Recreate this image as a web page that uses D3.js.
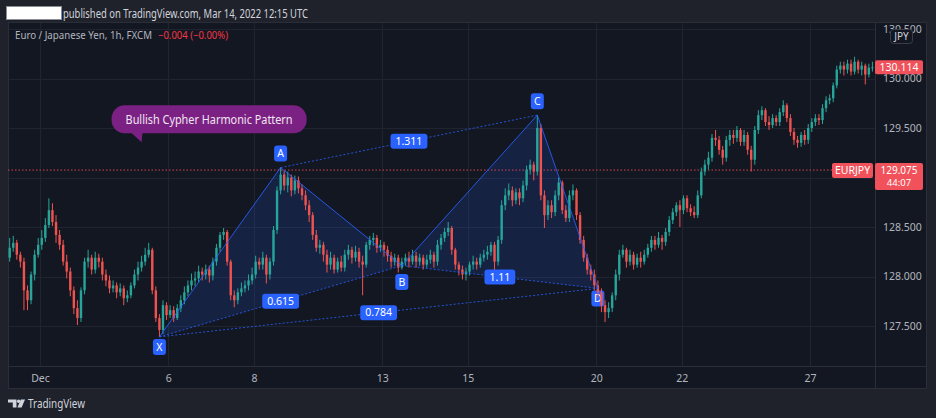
<!DOCTYPE html>
<html><head><meta charset="utf-8">
<script src="https://cdn.jsdelivr.net/npm/d3@7"></script>
<style>html,body{margin:0;padding:0;background:#1f222b;}svg{display:block;}</style>
</head><body><svg id="c" width="936" height="418"></svg>
<script>
// ---- DATA (EUR/JPY, 2-hour bars) ----
const firstOpen = 128.19;
const closes = [128.29,128.34,128.22,128.15,127.86,127.76,128.02,128.22,128.32,128.39,
128.52,128.67,128.55,128.42,128.32,128.15,128.05,127.86,127.68,127.58,
127.86,128.15,128.19,128.07,128.19,128.15,128.02,127.96,127.88,127.91,
127.84,127.88,127.78,127.81,127.91,128.02,128.09,128.15,128.22,128.27,
127.86,127.58,127.46,127.71,127.61,127.66,127.58,127.68,127.76,127.84,
127.91,127.96,127.98,128.05,128.02,128.07,128.01,128.15,128.29,128.42,
128.45,128.15,127.81,127.76,127.84,127.88,127.91,127.96,128.02,128.15,
128.12,128.19,128.02,128.15,128.47,128.87,129.03,128.92,129.00,128.87,
128.97,128.89,128.82,128.72,128.62,128.42,128.29,128.32,128.22,128.12,
128.19,128.07,128.15,128.09,128.22,128.27,128.19,128.25,128.15,128.12,
128.32,128.37,128.39,128.29,128.32,128.27,128.21,128.15,128.19,128.09,
128.15,128.19,128.15,128.21,128.15,128.19,128.12,128.17,128.22,128.15,
128.32,128.39,128.45,128.49,128.27,128.12,128.07,128.02,128.05,128.12,
128.15,128.12,128.19,128.22,128.25,128.32,128.15,128.37,128.72,128.82,
128.87,128.77,128.85,128.79,128.92,129.08,129.13,129.06,129.50,128.82,
128.62,128.72,128.65,128.82,128.95,128.67,128.59,128.82,128.87,128.62,
128.37,128.19,128.07,128.02,127.91,127.84,127.71,127.64,127.68,127.81,
128.02,128.22,128.27,128.15,128.22,128.12,128.19,128.15,128.22,128.29,
128.37,128.32,128.39,128.35,128.45,128.57,128.65,128.72,128.67,128.79,
128.69,128.65,128.62,128.82,129.06,129.13,129.20,129.40,129.38,129.28,
129.20,129.38,129.43,129.40,129.48,129.36,129.43,129.28,129.18,129.48,
129.63,129.68,129.56,129.53,129.60,129.56,129.66,129.73,129.60,129.46,
129.38,129.35,129.43,129.38,129.50,129.56,129.60,129.58,129.70,129.78,
129.80,129.93,130.09,130.13,130.09,130.15,130.07,130.17,130.09,130.13,
130.04,130.11,130.114];
const highs = [128.39,128.41,128.37,128.25,128.19,127.91,128.05,128.27,128.39,128.47,
128.59,128.79,128.74,128.62,128.47,128.37,128.22,128.09,127.90,127.76,
127.89,128.19,128.27,128.22,128.25,128.23,128.19,128.07,128.01,127.96,
127.94,127.93,127.91,127.86,127.94,128.07,128.15,128.21,128.29,128.34,
128.29,127.90,127.62,127.76,127.74,127.71,127.70,127.72,127.81,127.90,
127.96,128.03,128.05,128.11,128.09,128.12,128.11,128.19,128.33,128.45,
128.49,128.47,128.17,127.86,127.88,127.94,127.96,128.02,128.09,128.21,
128.19,128.25,128.22,128.19,128.51,128.91,129.10,129.07,129.06,129.03,
129.02,129.01,128.93,128.87,128.77,128.65,128.47,128.37,128.35,128.27,
128.25,128.22,128.19,128.21,128.27,128.32,128.30,128.31,128.29,128.21,
128.35,128.41,128.44,128.42,128.37,128.35,128.31,128.25,128.23,128.22,
128.19,128.23,128.25,128.27,128.25,128.23,128.22,128.22,128.27,128.25,
128.37,128.43,128.49,128.55,128.51,128.29,128.15,128.11,128.09,128.15,
128.21,128.19,128.23,128.27,128.31,128.35,128.35,128.41,128.77,128.89,
128.94,128.91,128.89,128.89,128.97,129.12,129.18,129.16,129.63,129.54,
128.87,128.77,128.77,128.87,129.00,128.97,128.72,128.87,128.93,128.89,
128.65,128.41,128.23,128.12,128.07,127.96,127.88,127.76,127.74,127.84,
128.07,128.27,128.32,128.29,128.27,128.25,128.23,128.25,128.27,128.33,
128.41,128.41,128.45,128.42,128.49,128.61,128.69,128.75,128.77,128.82,
128.82,128.73,128.71,128.87,129.10,129.18,129.26,129.44,129.48,129.42,
129.32,129.42,129.48,129.48,129.52,129.50,129.48,129.46,129.32,129.52,
129.68,129.72,129.70,129.62,129.64,129.63,129.70,129.78,129.75,129.64,
129.50,129.42,129.46,129.48,129.54,129.60,129.64,129.64,129.74,129.82,
129.84,129.96,130.13,130.17,130.17,130.19,130.19,130.22,130.19,130.17,
130.15,130.15,130.17];
const lows = [128.15,128.25,128.17,128.09,127.66,127.66,127.72,127.96,128.19,128.27,
128.35,128.49,128.51,128.34,128.27,128.11,127.98,127.80,127.62,127.51,
127.54,127.82,128.09,128.02,128.03,128.09,127.96,127.90,127.83,127.84,
127.78,127.80,127.71,127.74,127.78,127.88,127.96,128.05,128.11,128.19,
127.82,127.54,127.39,127.42,127.56,127.58,127.54,127.56,127.64,127.72,
127.80,127.86,127.90,127.94,127.96,127.97,127.94,127.96,128.11,128.25,
128.37,128.11,127.76,127.69,127.72,127.80,127.84,127.86,127.92,127.98,
128.07,128.07,127.93,127.97,128.11,128.43,128.83,128.87,128.85,128.81,
128.83,128.84,128.77,128.67,128.55,128.37,128.25,128.23,128.15,128.04,
128.07,128.03,128.04,128.05,128.05,128.17,128.13,128.15,128.09,127.81,
128.09,128.27,128.31,128.24,128.25,128.20,128.15,128.09,128.11,128.04,
128.07,128.11,128.09,128.12,128.09,128.11,128.07,128.09,128.13,128.09,
128.11,128.27,128.35,128.41,128.22,128.07,128.01,127.97,127.96,128.01,
128.07,128.07,128.09,128.15,128.17,128.21,128.05,128.11,128.33,128.67,
128.77,128.71,128.73,128.72,128.75,128.87,129.03,128.97,129.02,128.77,
128.49,128.57,128.59,128.61,128.77,128.63,128.55,128.55,128.77,128.57,
128.33,128.15,128.02,127.96,127.86,127.78,127.64,127.54,127.58,127.64,
127.76,127.96,128.19,128.09,128.11,128.07,128.09,128.09,128.12,128.19,
128.25,128.27,128.29,128.27,128.31,128.41,128.53,128.61,128.50,128.63,
128.65,128.61,128.59,128.59,128.79,129.02,129.08,129.16,129.32,129.23,
129.13,129.16,129.32,129.34,129.36,129.32,129.32,129.23,129.06,129.13,
129.44,129.58,129.52,129.48,129.50,129.52,129.52,129.62,129.56,129.42,
129.33,129.30,129.31,129.33,129.34,129.46,129.52,129.53,129.54,129.66,
129.74,129.76,129.90,130.05,130.03,130.05,130.03,130.04,130.05,130.03,
129.94,130.01,130.07];
const dayLabels = ["Dec","6","8","13","15","20","22","27"];
const dayIndex  = [9,45,69,105,129,165,189,225];
const priceGrid  = [127.5,128.0,128.5,129.0,129.5,130.0,130.5];
const priceTicks = [127.5,128.0,128.5,129.5,130.0,130.5];
const patternNames  = ["X","A","B","C","D"];
const patternBars   = [42,76,110,148,165];
const patternPrices = [127.39,129.10,128.11,129.63,127.88];
const ratioTexts = ["0.615","1.311","1.11","0.784"];
const ratioFrom  = ["X","A","B","X"];
const ratioTo    = ["B","C","D","D"];
const lastPrice = 130.114;
const markerPrice = 129.075;
const markerName = "EURJPY";
const markerTimer = "44:07";

// ---- LAYOUT ----
const FONT = "'Noto Sans', Roboto, sans-serif";
const svg = d3.select("#c");
const plot = {l:8, r:875, t:22, b:366};
const axisR = 927, axisB = 389;
const step = 3.565;
const x = d3.scaleLinear().domain([0, closes.length]).range([7.9, 7.9 + closes.length*step]);
const y = d3.scaleLinear().domain([128, 130]).range([276.5, 78.5]);
const BLUE = "#2962ff", GREEN = "#26a69a", RED = "#ef5350", LBL_RED = "#f0515a";

svg.append("rect").attr("width",936).attr("height",418).attr("fill","#1f222b");
svg.append("rect").attr("x",plot.l).attr("y",plot.t).attr("width",axisR-plot.l).attr("height",axisB-plot.t)
  .attr("fill","#131722");

svg.append("defs").append("clipPath").attr("id","clip").append("rect")
  .attr("x",plot.l).attr("y",plot.t).attr("width",plot.r-plot.l).attr("height",plot.b-plot.t);

// grid
const grid = svg.append("g").attr("clip-path","url(#clip)");
grid.selectAll(".hg").data(priceGrid).join("line")
  .attr("x1",plot.l).attr("x2",plot.r).attr("y1",d=>Math.round(y(d))+0.5).attr("y2",d=>Math.round(y(d))+0.5)
  .attr("stroke","#1f2430");
grid.selectAll(".vg").data(dayIndex).join("line")
  .attr("y1",plot.t).attr("y2",plot.b).attr("x1",d=>Math.round(x(d))+0.5).attr("x2",d=>Math.round(x(d))+0.5)
  .attr("stroke","#1f2430");

// frame lines
const fr = svg.append("g").attr("stroke","#2a2e39").attr("fill","none");
fr.append("line").attr("x1",plot.l).attr("x2",axisR).attr("y1",plot.b+0.5).attr("y2",plot.b+0.5);
fr.append("line").attr("x1",plot.r+0.5).attr("x2",plot.r+0.5).attr("y1",plot.t).attr("y2",axisB);
fr.append("rect").attr("x",plot.l+0.5).attr("y",plot.t+0.5).attr("width",axisR-plot.l-1).attr("height",axisB-plot.t-1);

// pattern geometry
const P = {};
patternNames.forEach((n,i)=>{ P[n] = {x: x(patternBars[i]+0.5), y: y(patternPrices[i])}; });
const pat = svg.append("g").attr("clip-path","url(#clip)");
[["X","A","B"],["B","C","D"]].forEach(tri=>{
  pat.append("polygon").attr("points", tri.map(n=>P[n].x+","+P[n].y).join(" "))
    .attr("fill","rgba(41,98,255,0.15)");
});

// red dotted marker line
svg.append("line").attr("x1",plot.l).attr("x2",832).attr("y1",y(markerPrice)).attr("y2",y(markerPrice))
  .attr("stroke","#d9434f").attr("stroke-width",1).attr("stroke-dasharray","1.5,2");

// labels style offsets
const lblOff = {X:10, A:-14, B:16.5, C:-14, D:10};
function pointLabel(g, n){
  const cx = P[n].x, cy = P[n].y + lblOff[n];
  g.append("rect").attr("x",cx-6.5).attr("y",cy-8).attr("width",13).attr("height",16).attr("rx",3).attr("fill",BLUE);
  g.append("text").attr("x",cx).attr("y",cy+3.8).attr("text-anchor","middle").attr("fill","#fff")
    .attr("font-family",FONT).attr("font-size",10.5).text(n);
}
// D label lies under the candles in the reference
pointLabel(svg.append("g"), "D");

// candles
const cg = svg.append("g").attr("clip-path","url(#clip)");
const bars = closes.map((c,i)=>({i, o: i===0?firstOpen:closes[i-1], c, h: highs[i], l: lows[i]}));
cg.selectAll(".w").data(bars).join("line")
  .attr("x1",d=>x(d.i+0.5)).attr("x2",d=>x(d.i+0.5)).attr("y1",d=>y(d.h)).attr("y2",d=>y(d.l))
  .attr("stroke",d=>d.c>=d.o?GREEN:RED).attr("stroke-width",1);
cg.selectAll(".b").data(bars).join("rect")
  .attr("x",d=>x(d.i+0.5)-1.2).attr("width",2.4)
  .attr("y",d=>y(Math.max(d.o,d.c))).attr("height",d=>Math.max(1,Math.abs(y(d.o)-y(d.c))))
  .attr("fill",d=>d.c>=d.o?GREEN:RED);

// pattern lines
const lg = svg.append("g").attr("clip-path","url(#clip)");
lg.append("path").attr("d", d3.line().x(n=>P[n].x).y(n=>P[n].y)(patternNames))
  .attr("fill","none").attr("stroke",BLUE).attr("stroke-opacity",0.85).attr("stroke-width",1);
ratioFrom.forEach((f,i)=>{
  lg.append("line").attr("x1",P[f].x).attr("y1",P[f].y).attr("x2",P[ratioTo[i]].x).attr("y2",P[ratioTo[i]].y)
    .attr("stroke",BLUE).attr("stroke-opacity",0.8).attr("stroke-dasharray","2,2");
});
const labG = svg.append("g");
ratioTexts.forEach((t,i)=>{
  const a = P[ratioFrom[i]], b = P[ratioTo[i]];
  const cx = (a.x+b.x)/2, cy = (a.y+b.y)/2;
  const g = labG.append("g");
  const tx = g.append("text").attr("x",cx).attr("y",cy+3.8).attr("text-anchor","middle").attr("fill","#fff")
    .attr("font-family",FONT).attr("font-size",10.5).text(t);
  const w = tx.node().getComputedTextLength() + 10;
  g.insert("rect","text").attr("x",cx-w/2).attr("y",cy-7.5).attr("width",w).attr("height",15).attr("rx",3).attr("fill",BLUE);
});
["X","A","B","C"].forEach(n=>pointLabel(labG,n));

// bubble annotation anchored to tail tip
const tip = {x: x(37.5), y: y(129.355)};
const bx = tip.x - 30, bw = 195, by = tip.y - 37, bh = 28;
svg.append("rect").attr("x",bx).attr("y",by).attr("width",bw).attr("height",bh).attr("rx",13).attr("fill","#7b2183");
svg.append("polygon").attr("points",`${tip.x-12},${by+bh-2} ${tip.x+1},${by+bh-2} ${tip.x},${tip.y}`).attr("fill","#7b2183");
svg.append("text").attr("x",bx+bw/2).attr("y",by+bh/2+4.3).attr("text-anchor","middle").attr("fill","#f0e6f2")
  .attr("font-family",FONT).attr("font-size",12.5).attr("textLength",167).attr("lengthAdjust","spacingAndGlyphs")
  .text("Bullish Cypher Harmonic Pattern");

// axes
const yAxis = svg.append("g").attr("transform",`translate(${plot.r},0)`)
  .call(d3.axisRight(y).tickValues(priceTicks).tickFormat(d3.format(".3f")).tickSize(0).tickPadding(8));
yAxis.select(".domain").remove();
yAxis.selectAll("text").attr("fill","#b2b5be").attr("font-family",FONT).attr("font-size",10.5);
const xAxis = svg.append("g").attr("transform",`translate(0,${plot.b})`)
  .call(d3.axisBottom(x).tickValues(dayIndex).tickFormat((d,i)=>dayLabels[i]).tickSize(0).tickPadding(9));
xAxis.select(".domain").remove();
xAxis.selectAll("text").attr("fill","#b2b5be").attr("font-family",FONT).attr("font-size",10.5);

// JPY badge
svg.append("rect").attr("x",890.5).attr("y",29.5).attr("width",22).attr("height",14).attr("rx",3)
  .attr("fill","#131722").attr("stroke","#3a3e4a");
svg.append("text").attr("x",901.5).attr("y",40).attr("text-anchor","middle").attr("fill","#d1d4dc")
  .attr("font-family",FONT).attr("font-size",10).text("JPY");

// last price label
const ly = y(lastPrice);
svg.append("rect").attr("x",plot.r).attr("y",ly-7).attr("width",48).attr("height",14).attr("rx",2).attr("fill",LBL_RED);
svg.append("text").attr("x",plot.r+24).attr("y",ly+4).attr("text-anchor","middle").attr("fill","#fff")
  .attr("font-family",FONT).attr("font-size",10.5).text(lastPrice.toFixed(3));
// marker labels
const my = y(markerPrice);
svg.append("rect").attr("x",832).attr("y",my-7).attr("width",41).attr("height",15).attr("rx",2).attr("fill",LBL_RED);
svg.append("text").attr("x",852.5).attr("y",my+4.2).attr("text-anchor","middle").attr("fill","#fff")
  .attr("font-family",FONT).attr("font-size",10.5).text(markerName);
svg.append("rect").attr("x",plot.r).attr("y",my-7).attr("width",48).attr("height",27).attr("rx",2).attr("fill",LBL_RED);
svg.append("text").attr("x",plot.r+24).attr("y",my+3.6).attr("text-anchor","middle").attr("fill","#fff")
  .attr("font-family",FONT).attr("font-size",10).text(markerPrice.toFixed(3));
svg.append("text").attr("x",plot.r+24).attr("y",my+16.2).attr("text-anchor","middle").attr("fill","#fff")
  .attr("font-family",FONT).attr("font-size",9.5).text(markerTimer);

// header
svg.append("rect").attr("x",6.5).attr("y",6.5).attr("width",55).attr("height",13).attr("fill","#fff").attr("stroke","#8a8d96");
svg.append("text").attr("x",63).attr("y",17.5).attr("fill","#d1d4dc").attr("font-family",FONT).attr("font-size",12)
  .attr("textLength",245).attr("lengthAdjust","spacingAndGlyphs")
  .text("published on TradingView.com, Mar 14, 2022 12:15 UTC");
svg.append("text").attr("x",15).attr("y",38.5).attr("fill","#b2b5be").attr("font-family",FONT).attr("font-size",11)
  .attr("textLength",137).attr("lengthAdjust","spacingAndGlyphs").text("Euro / Japanese Yen, 1h, FXCM");
svg.append("text").attr("x",158).attr("y",38.5).attr("fill","#f23645").attr("font-family",FONT).attr("font-size",11)
  .attr("textLength",70).attr("lengthAdjust","spacingAndGlyphs").text("\u22120.004 (\u22120.00%)");

// footer logo + text
const logo = svg.append("g").attr("fill","#d1d4dc");
logo.append("path").attr("d","M8,399.5 H16.5 V407.5 H12.8 V402.6 H8 Z");
logo.append("circle").attr("cx",18.6).attr("cy",401.2).attr("r",1.7);
logo.append("path").attr("d","M20.8,399.5 H25 L21.6,407.5 H17.4 Z");
svg.append("text").attr("x",28).attr("y",408).attr("fill","#d1d4dc").attr("font-family",FONT).attr("font-size",12.5)
  .attr("textLength",57).attr("lengthAdjust","spacingAndGlyphs").text("TradingView");
</script></body></html>
